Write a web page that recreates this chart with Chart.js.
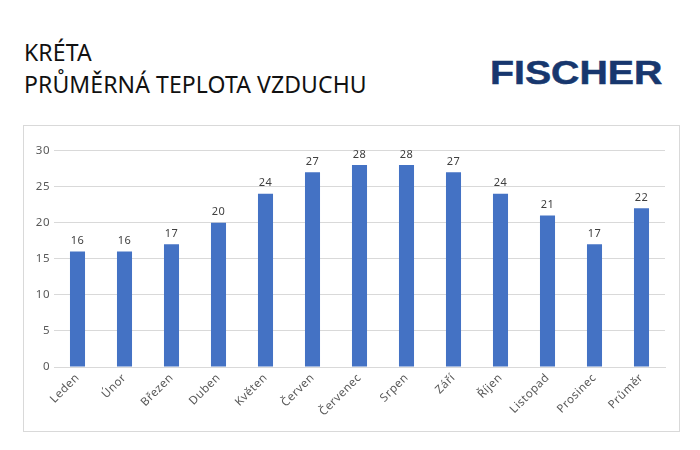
<!DOCTYPE html>
<html>
<head>
<meta charset="utf-8">
<style>
  body { margin: 0; background: #fff; }
  #page { position: relative; width: 700px; height: 450px; overflow: hidden; }
  #chart-box { position: absolute; left: 23px; top: 125px; width: 655px; height: 305px; border: 1px solid #d9d9d9; }
  #title { position: absolute; left: 24px; top: 36px; font: 23px/32px "Noto Sans", sans-serif; letter-spacing: 0.1px; color: #111; }
  #logo { position: absolute; left: 490px; top: 53px; font: bold 33px/40px "Liberation Sans", sans-serif; color: #17376e; -webkit-text-stroke: 0.5px #17376e; transform: scaleX(1.19); transform-origin: left top; }
  canvas { position: absolute; left: 0; top: 0; }
</style>
</head>
<body>
<div id="page">
  <div id="title">KRÉTA<br>PRŮMĚRNÁ TEPLOTA VZDUCHU</div>
  <div id="logo">FISCHER</div>
  <div id="chart-box"></div>
  <canvas id="chart" width="700" height="450"></canvas>
</div>
<script src="https://cdn.jsdelivr.net/npm/chart.js@4"></script>
<script>
const categories = ['Leden', 'Únor', 'Březen', 'Duben', 'Květen', 'Červen', 'Červenec', 'Srpen', 'Září', 'Říjen', 'Listopad', 'Prosinec', 'Průměr'];
const temperatures = [16, 16, 17, 20, 24, 27, 28, 28, 27, 24, 21, 17, 22];

// numbers above the bars
const barLabels = {
    id: 'barLabels',
    beforeDraw(chart) {
        chart.ctx.letterSpacing = '0.5px';
    },
    afterDatasetsDraw(chart) {
        const ctx = chart.ctx;
        ctx.save();
        ctx.font = '11px "Noto Sans"';
        ctx.fillStyle = '#404040';
        ctx.textAlign = 'center';
        ctx.textBaseline = 'bottom';
        chart.getDatasetMeta(0).data.forEach((bar, i) => {
            ctx.fillText(temperatures[i], bar.x, bar.y - 5);
        });
        ctx.restore();
    }
};

new Chart(document.getElementById('chart').getContext('2d'), {
    type: 'bar',
    data: {
        labels: categories,
        datasets: [{
            data: temperatures,
            backgroundColor: '#4472c4',
            barPercentage: 0.32,
            categoryPercentage: 1
        }]
    },
    options: {
        responsive: false,
        animation: false,
        layout: { padding: { left: 24, right: 35, top: 150.5, bottom: 23 } },
        plugins: { legend: { display: false }, tooltip: { enabled: false } },
        scales: {
            x: {
                afterFit(scale) { scale.height = 60; },
                grid: { display: false, drawTicks: false },
                border: { color: '#d9d9d9' },
                ticks: {
                    autoSkip: false,
                    maxRotation: 45,
                    minRotation: 45,
                    padding: 4,
                    color: '#595959',
                    font: { family: '"Noto Sans"', size: 11.5 }
                }
            },
            y: {
                min: 0,
                max: 30,
                afterFit(scale) { scale.width = 30; },
                grid: { color: '#d9d9d9', drawTicks: false },
                border: { display: false },
                ticks: {
                    stepSize: 5,
                    padding: 4,
                    color: '#595959',
                    font: { family: '"Noto Sans"', size: 11.5 }
                }
            }
        }
    },
    plugins: [barLabels]
});
</script>
</body>
</html>
